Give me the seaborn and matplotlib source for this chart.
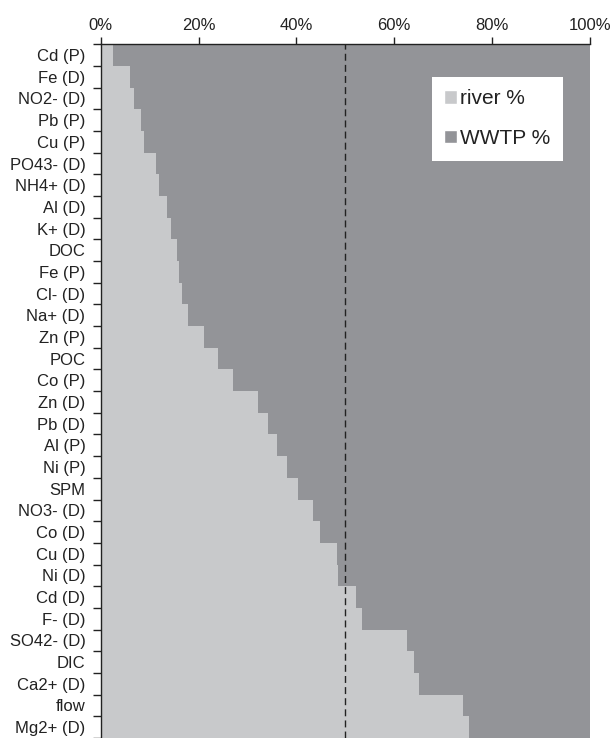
import numpy as np
import pandas as pd
import matplotlib

matplotlib.use('Agg')
import matplotlib.pyplot as plt
import seaborn as sns
from matplotlib.patches import Patch
from matplotlib.ticker import PercentFormatter

# parameters, top to bottom
categories = [
    'Cd (P)', 'Fe (D)', 'NO2- (D)', 'Pb (P)', 'Cu (P)', 'PO43- (D)', 'NH4+ (D)',
    'Al (D)', 'K+ (D)', 'DOC', 'Fe (P)', 'Cl- (D)', 'Na+ (D)', 'Zn (P)', 'POC',
    'Co (P)', 'Zn (D)', 'Pb (D)', 'Al (P)', 'Ni (P)', 'SPM', 'NO3- (D)', 'Co (D)',
    'Cu (D)', 'Ni (D)', 'Cd (D)', 'F- (D)', 'SO42- (D)', 'DIC', 'Ca2+ (D)', 'flow',
    'Mg2+ (D)',
]
river_pct = [
    2.6, 6.0, 6.8, 8.2, 8.8, 11.3, 11.9, 13.5, 14.4, 15.5, 16.1, 16.6, 17.8, 21.2,
    24.0, 27.1, 32.1, 34.1, 36.1, 38.1, 40.3, 43.4, 44.8, 48.2, 48.5, 52.1, 53.5,
    62.6, 64.0, 65.1, 74.1, 75.3,
]
wwtp_pct = [
    97.4, 94.0, 93.2, 91.8, 91.2, 88.7, 88.1, 86.5, 85.6, 84.5, 83.9, 83.4, 82.2, 78.8,
    76.0, 72.9, 67.9, 65.9, 63.9, 61.9, 59.7, 56.6, 55.2, 51.8, 51.5, 47.9, 46.5,
    37.4, 36.0, 34.9, 25.9, 24.7,
]
x_ticks = [0, 20, 40, 60, 80, 100]

RIVER_C = '#c8c9cb'
WWTP_C = '#939498'

sns.set_style('white')
plt.rcParams['font.family'] = ['Liberation Sans', 'DejaVu Sans']

df = pd.DataFrame({'param': categories, 'river': river_pct, 'wwtp': wwtp_pct})
df['total'] = df['river'] + df['wwtp']

fig = plt.figure(figsize=(6.15, 7.38), dpi=100)
ax = fig.add_axes([0.1637, 0.0, 0.7956, 0.94])

# stacked: full bar (WWTP) underneath, river share on top
sns.barplot(data=df, x='total', y='param', color=WWTP_C, width=1, linewidth=0,
            saturation=1, errorbar=None, ax=ax)
sns.barplot(data=df, x='river', y='param', color=RIVER_C, width=1, linewidth=0,
            saturation=1, errorbar=None, ax=ax)

ax.axvline(50, color='#222222', lw=1.0, ls=(0, (5, 3)), zorder=5)

ax.set_xlim(0, 100)
ax.set_ylim(len(categories) - 0.5, -0.5)
ax.set_xlabel('')
ax.set_ylabel('')

ax.xaxis.tick_top()
ax.set_xticks(x_ticks)
ax.xaxis.set_major_formatter(PercentFormatter(decimals=0))
ax.tick_params(axis='x', top=True, bottom=False, length=5, width=1, direction='out',
               labelsize=12, pad=3, colors='#222222')
ax.set_yticks(np.arange(-0.5, len(categories), 1), minor=True)
ax.tick_params(axis='y', which='major', length=0, labelsize=12, pad=11, colors='#222222')
ax.tick_params(axis='y', which='minor', left=True, length=6, width=1, direction='out',
               color='#222222')

for side in ['right', 'bottom']:
    ax.spines[side].set_visible(False)
for side in ['top', 'left']:
    ax.spines[side].set_color('#222222')
    ax.spines[side].set_linewidth(1)

handles = [Patch(facecolor=RIVER_C, label='river %'), Patch(facecolor=WWTP_C, label='WWTP %')]
leg = ax.legend(handles=handles, loc='upper right', bbox_to_anchor=(0.915, 0.896),
                bbox_transform=fig.transFigure, fontsize=15, frameon=True,
                fancybox=False, framealpha=1, edgecolor='none', facecolor='white',
                handlelength=0.6, handleheight=0.6, handletextpad=0.15,
                labelspacing=1.0, borderpad=0.6, borderaxespad=0)
for t in leg.get_texts():
    t.set_color('#222222')

fig.savefig('out.png', dpi=100)
